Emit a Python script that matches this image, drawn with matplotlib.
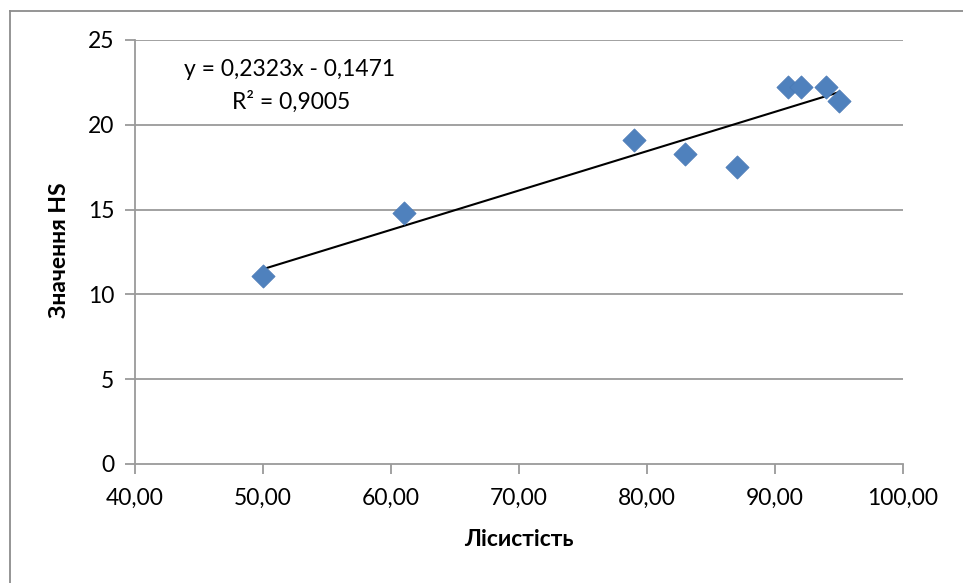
import numpy as np
import matplotlib
matplotlib.use("Agg")
import matplotlib.pyplot as plt
from matplotlib.lines import Line2D

forest = [50, 61, 79, 83, 87, 91, 92, 94, 95]
hs = [11.1, 14.8, 19.1, 18.3, 17.5, 22.2, 22.2, 22.2, 21.4]
x_ticks = [40, 50, 60, 70, 80, 90, 100]
x_tick_labels = ["40,00", "50,00", "60,00", "70,00", "80,00", "90,00", "100,00"]
y_ticks = [0, 5, 10, 15, 20, 25]
eq_text = "y = 0,2323x - 0,1471"
r2_text = "R² = 0,9005"

plt.rcParams['font.family'] = ['Lato', 'DejaVu Sans']
FS = 16.5

fig = plt.figure(figsize=(9.63, 5.83), dpi=100)
ax = fig.add_axes([135/963, 1-464/583, (903-135)/963, (464-40)/583])

grid_c = '#9a9a9a'
ax.set_xlim(40, 100)
ax.set_ylim(0, 25)
ax.set_xticks(x_ticks)
ax.set_xticklabels(x_tick_labels)
ax.set_yticks(y_ticks)
for y in y_ticks[1:]:
    ax.axhline(y, color=grid_c, lw=1.3, zorder=0)
for s in ['top', 'right']:
    ax.spines[s].set_visible(False)
for s in ['left', 'bottom']:
    ax.spines[s].set_color(grid_c)
    ax.spines[s].set_linewidth(1.3)
ax.tick_params(direction='out', length=7, width=1.3, color=grid_c,
               labelsize=FS)
ax.tick_params(axis='y', pad=8)
ax.tick_params(axis='x', pad=10)

coef = np.polyfit(forest, hs, 1)
xs = np.array([min(forest), max(forest)])
ax.plot(xs, np.polyval(coef, xs), color='black', lw=1.5, zorder=2)
ax.scatter(forest, hs, marker='D', s=140, color='#4f81bd', edgecolors='#4a7ab5',
           linewidths=0.5, zorder=3)

fig.text(290/963, 1-70/583, eq_text, ha='center', va='center', fontsize=FS)
fig.text(291/963, 1-102/583, r2_text, ha='center', va='center', fontsize=FS)

fig.text(519/963, 1-539/583, "Лісистість", ha='center', va='center',
         fontsize=FS, fontweight='bold')
fig.text(59/963, 1-250/583, "Значення HS", ha='center', va='center',
         fontsize=FS, fontweight='bold', rotation=90)

# outer chart border (top and left visible)
fig.add_artist(Line2D([10/963, 10/963], [0, 1-11/583], transform=fig.transFigure,
                      color='#8c8c8c', lw=1.3))
fig.add_artist(Line2D([10/963, 1], [1-11/583, 1-11/583], transform=fig.transFigure,
                      color='#8c8c8c', lw=1.3))

fig.savefig("out.png", dpi=100)
